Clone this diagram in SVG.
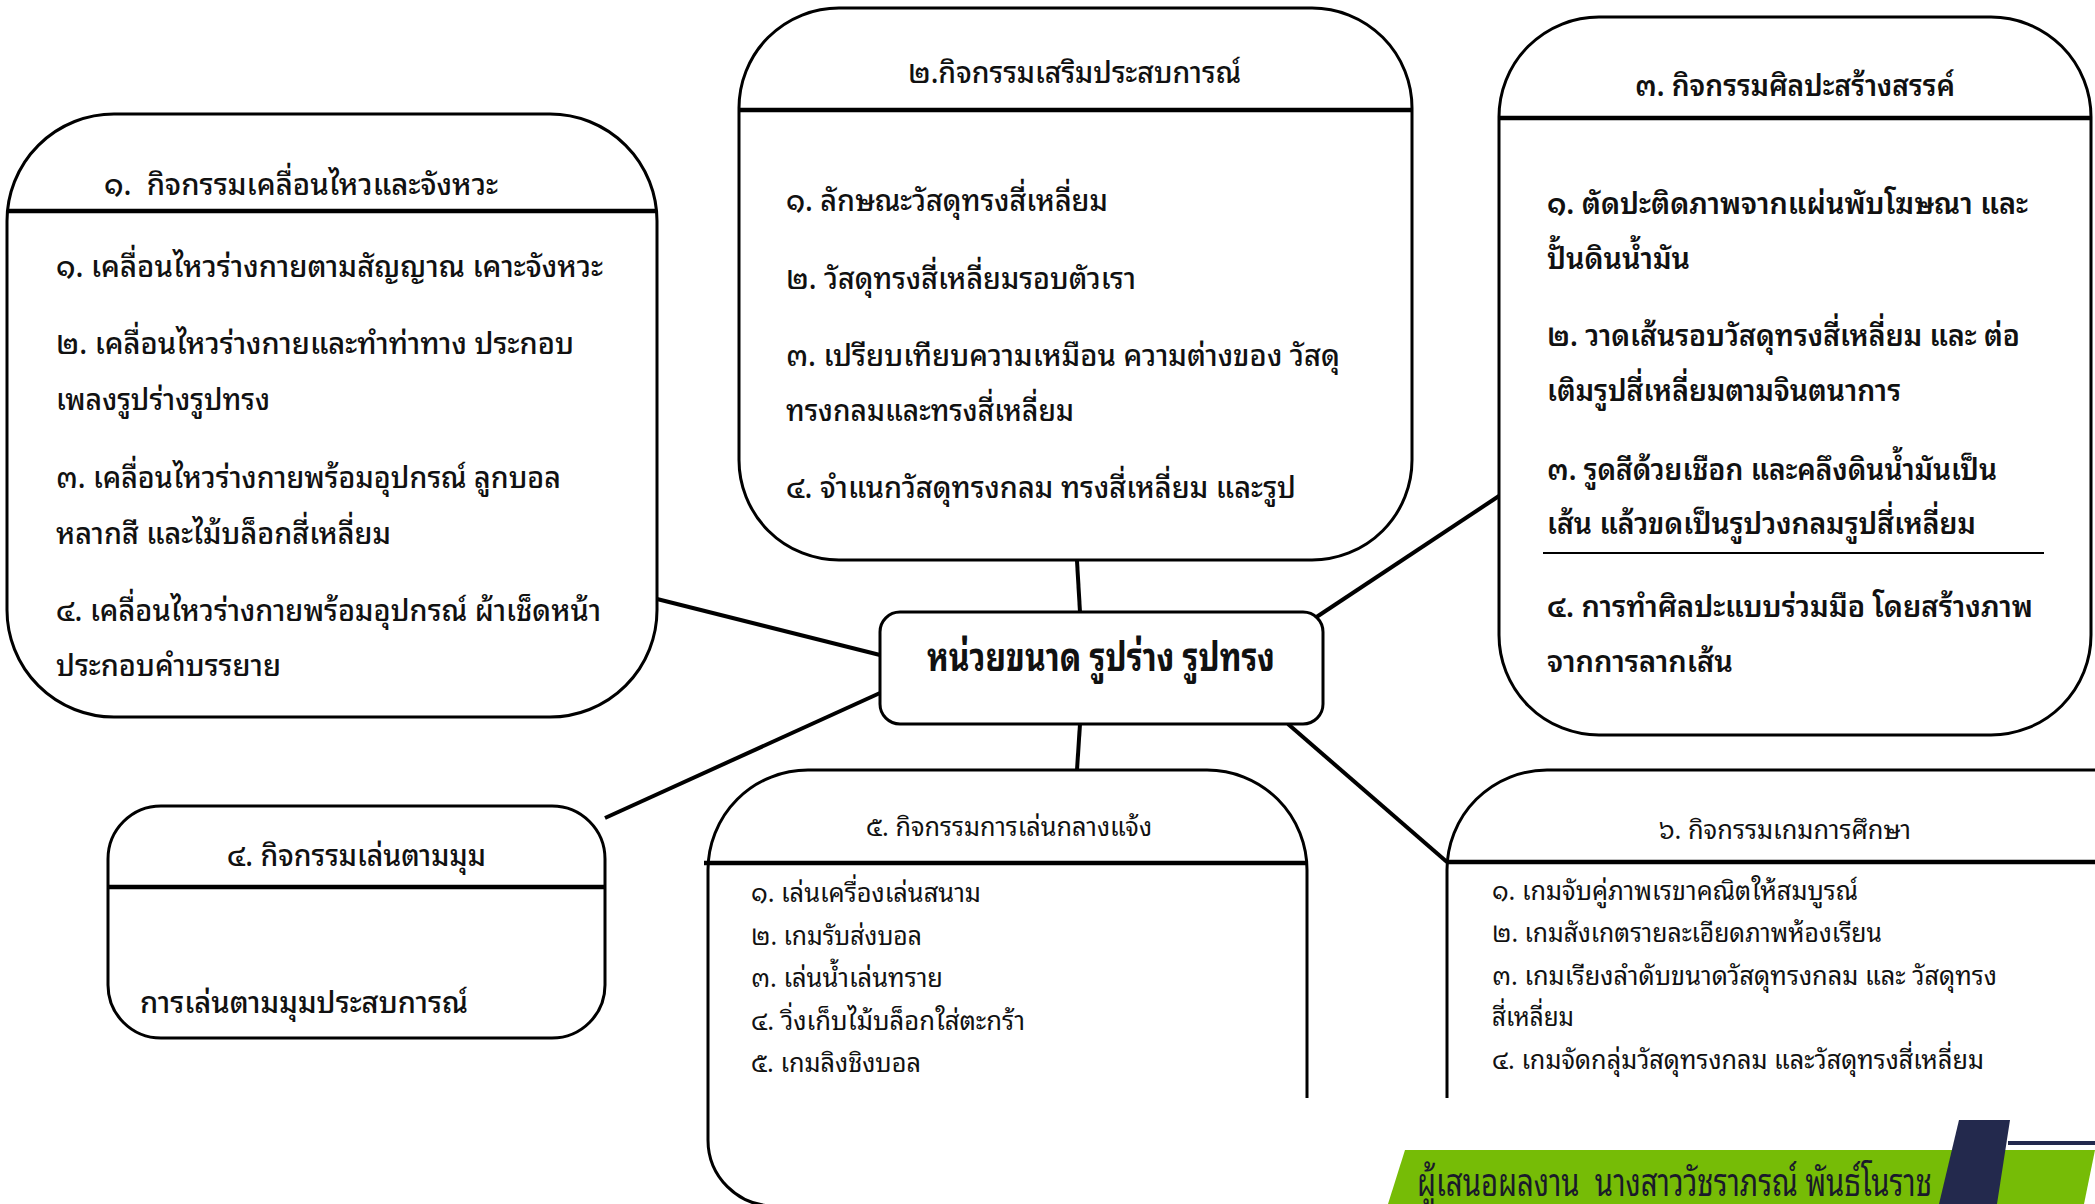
<svg xmlns="http://www.w3.org/2000/svg" width="2095" height="1204" viewBox="0 0 2095 1204">
<style>
.box{fill:#fff;stroke:#000;stroke-width:3}
.hdr{stroke:#000;stroke-width:4.5;fill:none}
.conn{stroke:#000;stroke-width:4;fill:none}
text{font-family:"Noto Sans Thai Looped","Loma","Garuda","Tahoma","Leelawadee UI","Noto Sans Thai","DejaVu Sans","Noto Sans",sans-serif;fill:#111}
.tl{font-size:30px}
.it{font-size:30px}
.sm{font-size:26px}
.bd{font-weight:600}
.md{font-weight:500}
</style>
<rect width="2095" height="1204" fill="#fff"/>
<g id="connectors">
<line class="conn" x1="657" y1="599" x2="880" y2="655"/>
<line class="conn" x1="1077" y1="561" x2="1080" y2="612"/>
<line class="conn" x1="1502" y1="494" x2="1315" y2="618"/>
<line class="conn" x1="880" y1="693" x2="605" y2="818"/>
<line class="conn" x1="1080" y1="724" x2="1077" y2="770"/>
<line class="conn" x1="1288" y1="724" x2="1447" y2="862"/>
</g>
<g id="node1">
<rect class="box" x="7" y="114" width="650" height="603" rx="107"/>
<line class="hdr" x1="7" y1="211" x2="657" y2="211"/>
<text class="tl md" x="104" y="195" textLength="394" lengthAdjust="spacingAndGlyphs">๑.&#160; กิจกรรมเคลื่อนไหวและจังหวะ</text>
<text class="it md" x="56" y="277" textLength="547" lengthAdjust="spacingAndGlyphs">๑. เคลื่อนไหวร่างกายตามสัญญาณ เคาะจังหวะ</text>
<text class="it md" x="56" y="354" textLength="518" lengthAdjust="spacingAndGlyphs">๒. เคลื่อนไหวร่างกายและทำท่าทาง ประกอบ</text>
<text class="it md" x="56" y="410" textLength="214" lengthAdjust="spacingAndGlyphs">เพลงรูปร่างรูปทรง</text>
<text class="it md" x="56" y="488" textLength="505" lengthAdjust="spacingAndGlyphs">๓. เคลื่อนไหวร่างกายพร้อมอุปกรณ์ ลูกบอล</text>
<text class="it md" x="56" y="544" textLength="335" lengthAdjust="spacingAndGlyphs">หลากสี และไม้บล็อกสี่เหลี่ยม</text>
<text class="it md" x="56" y="621" textLength="545" lengthAdjust="spacingAndGlyphs">๔. เคลื่อนไหวร่างกายพร้อมอุปกรณ์ ผ้าเช็ดหน้า</text>
<text class="it md" x="56" y="676" textLength="225" lengthAdjust="spacingAndGlyphs">ประกอบคำบรรยาย</text>
</g>
<g id="node2">
<rect class="box" x="739" y="8" width="673" height="552" rx="100"/>
<line class="hdr" x1="739" y1="110" x2="1412" y2="110"/>
<text class="tl md" x="908" y="83" textLength="333" lengthAdjust="spacingAndGlyphs">๒.กิจกรรมเสริมประสบการณ์</text>
<text class="it md" x="786" y="211" textLength="322" lengthAdjust="spacingAndGlyphs">๑. ลักษณะวัสดุทรงสี่เหลี่ยม</text>
<text class="it md" x="786" y="289" textLength="350" lengthAdjust="spacingAndGlyphs">๒. วัสดุทรงสี่เหลี่ยมรอบตัวเรา</text>
<text class="it md" x="786" y="366" textLength="554" lengthAdjust="spacingAndGlyphs">๓. เปรียบเทียบความเหมือน ความต่างของ วัสดุ</text>
<text class="it md" x="786" y="421" textLength="288" lengthAdjust="spacingAndGlyphs">ทรงกลมและทรงสี่เหลี่ยม</text>
<text class="it md" x="786" y="498" textLength="510" lengthAdjust="spacingAndGlyphs">๔. จำแนกวัสดุทรงกลม ทรงสี่เหลี่ยม และรูป</text>
</g>
<g id="node3">
<rect class="box" x="1499" y="17" width="592" height="718" rx="100"/>
<line class="hdr" x1="1499" y1="118" x2="2091" y2="118"/>
<text class="tl bd" x="1635" y="96" textLength="320" lengthAdjust="spacingAndGlyphs">๓. กิจกรรมศิลปะสร้างสรรค์</text>
<text class="it bd" x="1547" y="214" textLength="481" lengthAdjust="spacingAndGlyphs">๑. ตัดปะติดภาพจากแผ่นพับโฆษณา และ</text>
<text class="it bd" x="1547" y="269" textLength="143" lengthAdjust="spacingAndGlyphs">ปั้นดินน้ำมัน</text>
<text class="it bd" x="1547" y="346" textLength="473" lengthAdjust="spacingAndGlyphs">๒. วาดเส้นรอบวัสดุทรงสี่เหลี่ยม และ ต่อ</text>
<text class="it bd" x="1547" y="401" textLength="354" lengthAdjust="spacingAndGlyphs">เติมรูปสี่เหลี่ยมตามจินตนาการ</text>
<text class="it bd" x="1547" y="480" textLength="450" lengthAdjust="spacingAndGlyphs">๓. รูดสีด้วยเชือก และคลึงดินน้ำมันเป็น</text>
<text class="it bd" x="1547" y="534" textLength="429" lengthAdjust="spacingAndGlyphs">เส้น แล้วขดเป็นรูปวงกลมรูปสี่เหลี่ยม</text>
<line x1="1543" y1="553" x2="2044" y2="553" stroke="#000" stroke-width="2"/>
<text class="it bd" x="1547" y="617" textLength="486" lengthAdjust="spacingAndGlyphs">๔. การทำศิลปะแบบร่วมมือ โดยสร้างภาพ</text>
<text class="it bd" x="1547" y="672" textLength="186" lengthAdjust="spacingAndGlyphs">จากการลากเส้น</text>
</g>
<g id="center">
<rect class="box" x="880" y="612" width="443" height="112" rx="20"/>
<text x="927" y="671" font-size="40" font-weight="bold" textLength="348" lengthAdjust="spacingAndGlyphs">หน่วยขนาด รูปร่าง รูปทรง</text>
</g>
<g id="node4">
<rect class="box" x="108" y="806" width="497" height="232" rx="53"/>
<line class="hdr" x1="108" y1="887" x2="605" y2="887"/>
<text class="tl md" x="227" y="866" textLength="259" lengthAdjust="spacingAndGlyphs">๔. กิจกรรมเล่นตามมุม</text>
<text class="it md" x="140" y="1013" textLength="328" lengthAdjust="spacingAndGlyphs">การเล่นตามมุมประสบการณ์</text>
</g>
<g id="node5">
<path class="box" d="M708,870 A100,100 0 0 1 808,770 H1207 A100,100 0 0 1 1307,870 V1140 A66,66 0 0 1 1241,1206 H774 A66,66 0 0 1 708,1140 Z"/>
<line class="hdr" x1="704" y1="863" x2="1307" y2="863"/>
<text class="sm" x="866" y="836" textLength="286" lengthAdjust="spacingAndGlyphs">๕. กิจกรรมการเล่นกลางแจ้ง</text>
<text class="sm" x="751" y="902" textLength="230" lengthAdjust="spacingAndGlyphs">๑. เล่นเครื่องเล่นสนาม</text>
<text class="sm" x="751" y="945" textLength="171" lengthAdjust="spacingAndGlyphs">๒. เกมรับส่งบอล</text>
<text class="sm" x="751" y="987" textLength="192" lengthAdjust="spacingAndGlyphs">๓. เล่นน้ำเล่นทราย</text>
<text class="sm" x="751" y="1030" textLength="274" lengthAdjust="spacingAndGlyphs">๔. วิ่งเก็บไม้บล็อกใส่ตะกร้า</text>
<text class="sm" x="751" y="1072" textLength="170" lengthAdjust="spacingAndGlyphs">๕. เกมลิงชิงบอล</text>
</g>
<g id="node6">
<rect class="box" x="1447" y="770" width="760" height="460" rx="100"/>
<line class="hdr" x1="1447" y1="862" x2="2095" y2="862"/>
<text class="sm" x="1659" y="839" textLength="252" lengthAdjust="spacingAndGlyphs">๖. กิจกรรมเกมการศึกษา</text>
<text class="sm" x="1492" y="900" textLength="366" lengthAdjust="spacingAndGlyphs">๑. เกมจับคู่ภาพเรขาคณิตให้สมบูรณ์</text>
<text class="sm" x="1492" y="942" textLength="390" lengthAdjust="spacingAndGlyphs">๒. เกมสังเกตรายละเอียดภาพห้องเรียน</text>
<text class="sm" x="1492" y="985" textLength="505" lengthAdjust="spacingAndGlyphs">๓. เกมเรียงลำดับขนาดวัสดุทรงกลม และ วัสดุทรง</text>
<text class="sm" x="1492" y="1026" textLength="82" lengthAdjust="spacingAndGlyphs">สี่เหลี่ยม</text>
<text class="sm" x="1492" y="1069" textLength="492" lengthAdjust="spacingAndGlyphs">๔. เกมจัดกลุ่มวัสดุทรงกลม และวัสดุทรงสี่เหลี่ยม</text>
</g>
<g id="footer">
<rect x="778" y="1098" width="1317" height="106" fill="#fff"/>
<polygon points="1405,1150 2095,1150 2084,1204 1388,1204" fill="#76bc06"/>
<polygon points="1959,1120 2010,1120 1997,1204 1939,1204" fill="#23294d"/>
<rect x="2008" y="1141" width="87" height="4" fill="#23294d"/>
<text x="1417" y="1196" font-size="38" textLength="515" lengthAdjust="spacingAndGlyphs" style="fill:#1a1a2a">ผู้เสนอผลงาน&#160; นางสาววัชราภรณ์ พันธ์โนราช</text>
</g>
</svg>
